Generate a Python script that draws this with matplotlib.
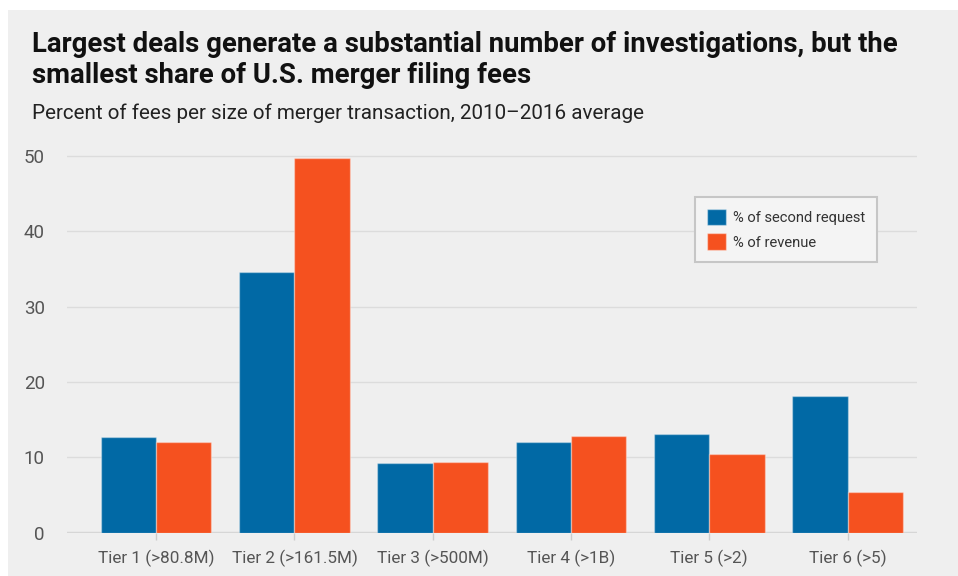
import matplotlib
matplotlib.use("Agg")
import matplotlib.pyplot as plt
from matplotlib.patches import Rectangle, Patch
import numpy as np

categories = ["Tier 1 (>80.8M)", "Tier 2 (>161.5M)", "Tier 3 (>500M)",
              "Tier 4 (>1B)", "Tier 5 (>2)", "Tier 6 (>5)"]
second_request = [12.7, 34.6, 9.3, 12.0, 13.1, 18.2]
revenue = [12.1, 49.7, 9.4, 12.9, 10.4, 5.4]
series_names = ["% of second request", "% of revenue"]
yticks = [0, 10, 20, 30, 40, 50]

title = "Largest deals generate a substantial number of investigations, but the\nsmallest share of U.S. merger filing fees"
subtitle = "Percent of fees per size of merger transaction, 2010\u20132016 average"

BLUE = "#0169a5"
ORANGE = "#f5511f"
BG = "#efefef"

plt.rcParams["font.family"] = ["Roboto", "DejaVu Sans"]

W, H = 958, 576
fig = plt.figure(figsize=(W / 100, H / 100), dpi=100, facecolor="white")
fig.patches.append(Rectangle((8 / W, 0), 1 - 8 / W, (H - 10) / H,
                             transform=fig.transFigure, facecolor=BG,
                             edgecolor="none", zorder=-10))

ax = fig.add_axes([67 / W, (H - 532.7) / H, (916.7 - 67) / W, (532.7 - 150) / H])
ax.set_facecolor("none")

x = np.arange(len(categories))
bw = 0.4
ax.bar(x - bw / 2, second_request, width=bw, color=BLUE,
       edgecolor=(1, 1, 1, 0.35), linewidth=1, zorder=3, label=series_names[0])
ax.bar(x + bw / 2, revenue, width=bw, color=ORANGE,
       edgecolor=(1, 1, 1, 0.35), linewidth=1, zorder=3, label=series_names[1])

ax.set_xlim(-0.645, 5.5)
ax.set_ylim(0, 50 * (532.7 - 150) / (532.7 - 156))
ax.set_yticks(yticks)
ax.set_xticks(x)
ax.set_xticklabels(categories)

for s in ax.spines.values():
    s.set_visible(False)
ax.grid(axis="y", color="#dcdcdc", linewidth=1, zorder=0)
ax.axhline(0, color="#d6d6d6", linewidth=2.5, zorder=2)
ax.tick_params(axis="y", length=0, pad=16, labelsize=13.5, labelcolor="#555555")
ax.tick_params(axis="x", length=5, width=1, color="#cccccc", pad=7,
               labelsize=12.3, labelcolor="#555555")

handles = [Patch(facecolor=BLUE, edgecolor=(1, 1, 1, 0.4)),
           Patch(facecolor=ORANGE, edgecolor=(1, 1, 1, 0.4))]
leg = ax.legend(handles, series_names, loc="upper left",
                bbox_to_anchor=((695 - 67) / (916.7 - 67), 1 - (197 - 150) / (532.7 - 150)),
                frameon=True, fancybox=False, fontsize=10.6, handlelength=1.3,
                handleheight=1.35, handletextpad=0.5, borderpad=0.8,
                labelspacing=0.55, borderaxespad=0)
leg.get_frame().set_facecolor("#f4f4f4")
leg.get_frame().set_edgecolor("#c6c6c6")
leg.get_frame().set_linewidth(1.5)
leg.get_frame().set_alpha(1)
for t in leg.get_texts():
    t.set_color("#333333")

fig.text(32 / W, 1 - 31 / H, title, fontsize=19.8, fontweight="bold",
         color="#111111", va="top", ha="left", linespacing=1.2)
fig.text(32 / W, 1 - 113 / H, subtitle, fontsize=14.9, fontweight="normal",
         color="#222222", va="center", ha="left")

fig.savefig("out.png", dpi=100, facecolor=fig.get_facecolor())
